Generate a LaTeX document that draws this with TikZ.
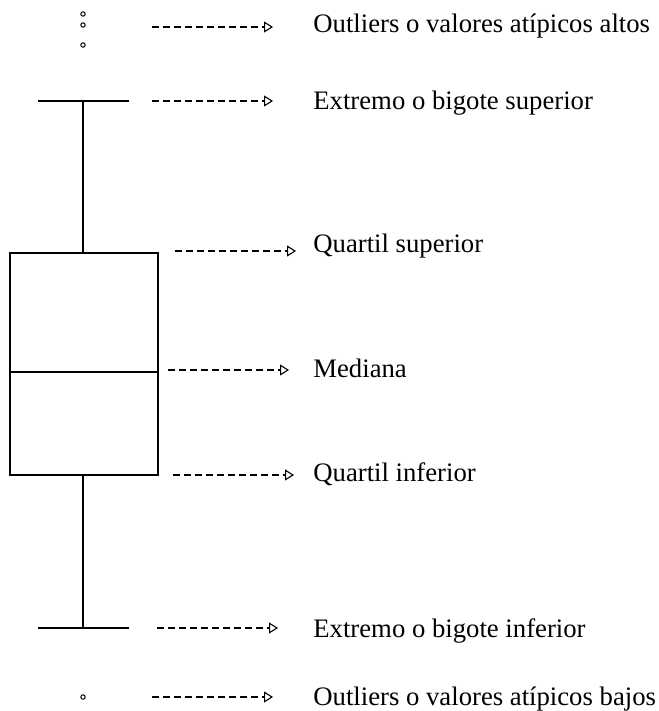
\documentclass[tikz,border=0pt]{standalone}
\usepackage{fontspec}
\setmainfont{Liberation Serif}
\usetikzlibrary{arrows.meta,positioning}

\begin{document}
\begin{tikzpicture}[
    x=0.5pt, y=-0.5pt,
    plot/.style={line width=0.65pt},
    outlier/.style={draw, circle, inner sep=0pt, minimum size=2.2pt, line width=0.5pt},
    lbl/.style={anchor=base west, inner sep=0pt, font=\fontsize{13.35}{16}\selectfont},
    arrow/.style={-{Triangle[open, length=4.5pt, width=5.5pt]}, dash pattern=on 3.3pt off 2.2pt, line width=0.55pt}
]
    \useasboundingbox (0,0) rectangle (658,711);

    % box and whiskers
    \coordinate (q3) at (83,253);
    \coordinate (q1) at (83,475);
    \coordinate (wtop) at (83,101);
    \coordinate (wbot) at (83,628);
    \draw[plot] (10,253) rectangle (158,475);
    \draw[plot] (10,372) -- (158,372);
    \draw[plot] (wtop) -- (q3);
    \draw[plot] (q1) -- (wbot);
    \draw[plot] (38,101) -- (129,101);
    \draw[plot] (38,628) -- (129,628);

    % outliers
    \node[outlier] (hi1) at (83,14) {};
    \node[outlier] (hi2) at (83,25) {};
    \node[outlier] (hi3) at (83,45) {};
    \node[outlier] (lo1) at (83,697) {};

    % labels
    \node[lbl] (outhi) at (313,33) {Outliers o valores atípicos altos};
    \node[lbl] (exthi) at (313,110) {Extremo o bigote superior};
    \node[lbl] (quarthi) at (313,252) {Quartil superior};
    \node[lbl] (med) at (313,377) {Mediana};
    \node[lbl] (quartlo) at (313,481) {Quartil inferior};
    \node[lbl] (extlo) at (313,637) {Extremo o bigote inferior};
    \node[lbl] (outlo) at (313,705) {Outliers o valores atípicos bajos};

    % arrows
    \coordinate (a1) at (152,27);  \coordinate (b1) at (273,27);
    \coordinate (a2) at (152,101); \coordinate (b2) at (273,101);
    \coordinate (a3) at (175,251); \coordinate (b3) at (296,251);
    \coordinate (a4) at (168,370); \coordinate (b4) at (289,370);
    \coordinate (a5) at (173,475); \coordinate (b5) at (294,475);
    \coordinate (a6) at (157,628); \coordinate (b6) at (278,628);
    \coordinate (a7) at (152,697); \coordinate (b7) at (273,697);
    \draw[arrow] (a1) -- (b1);
    \draw[arrow] (a2) -- (b2);
    \draw[arrow] (a3) -- (b3);
    \draw[arrow] (a4) -- (b4);
    \draw[arrow] (a5) -- (b5);
    \draw[arrow] (a6) -- (b6);
    \draw[arrow] (a7) -- (b7);
\end{tikzpicture}
\end{document}
